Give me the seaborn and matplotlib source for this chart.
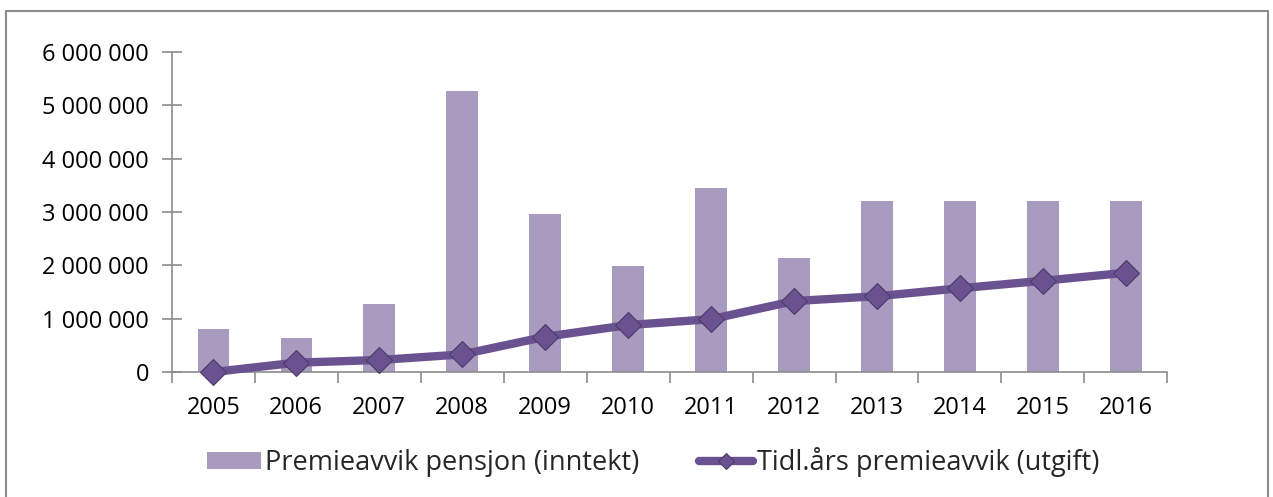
import matplotlib
matplotlib.use('Agg')
import matplotlib.pyplot as plt
import pandas as pd
import seaborn as sns
from matplotlib.ticker import FuncFormatter, FixedLocator
from matplotlib.patches import Rectangle

# chart data
years = ["2005", "2006", "2007", "2008", "2009", "2010",
         "2011", "2012", "2013", "2014", "2015", "2016"]
inntekt = [805000, 640000, 1280000, 5260000, 2960000, 1990000,
           3450000, 2140000, 3210000, 3210000, 3210000, 3210000]
utgift = [0, 175000, 225000, 330000, 660000, 880000,
          990000, 1330000, 1420000, 1570000, 1710000, 1860000]

bar_label = "Premieavvik pensjon (inntekt)"
line_label = "Tidl.års premieavvik (utgift)"

bar_color = "#A99ABF"
line_color = "#6A5290"
axis_grey = "#8C8C8C"

sns.set_theme(style="white")
plt.rcParams['font.family'] = ['Open Sans', 'DejaVu Sans']

df = pd.DataFrame({"year": years, "inntekt": inntekt, "utgift": utgift})

fig = plt.figure(figsize=(12.73, 4.97), dpi=100)
ax = fig.add_axes([0.135, 0.2515, 0.782, 0.644])

sns.barplot(data=df, x="year", y="inntekt", color=bar_color, width=0.38,
            saturation=1, ax=ax, label=bar_label, linewidth=0)
sns.pointplot(data=df, x="year", y="utgift", color=line_color, markers="D",
              ax=ax, label=line_label, linewidth=6, markersize=13,
              markeredgecolor="#4E3A6A", markeredgewidth=0.8)
for ln in ax.lines:
    ln.set_clip_on(False)
    ln.set_zorder(5)

ax.set_ylim(0, 6000000)
ax.set_xlim(-0.5, len(years) - 0.5)
ax.yaxis.set_major_locator(FixedLocator(range(0, 6000001, 1000000)))
ax.yaxis.set_major_formatter(FuncFormatter(lambda v, p: f"{int(v):,}".replace(",", " ")))
ax.set_xlabel("")
ax.set_ylabel("")

for side in ["top", "right"]:
    ax.spines[side].set_visible(False)
for side in ["left", "bottom"]:
    ax.spines[side].set_color(axis_grey)
    ax.spines[side].set_linewidth(1.2)

ax.tick_params(axis="y", which="major", direction="inout", length=14, width=1.2,
               color=axis_grey, left=True, labelsize=17, pad=9.5)
ax.tick_params(axis="x", which="major", length=0, labelsize=17, pad=17)
ax.set_xticks([i + 0.5 for i in range(-1, len(years))], minor=True)
ax.tick_params(axis="x", which="minor", direction="out", length=8, width=1.2,
               color=axis_grey, bottom=True)
for lbl in ax.get_xticklabels() + ax.get_yticklabels():
    lbl.set_color("black")

handles, labels = ax.get_legend_handles_labels()
order = [labels.index(bar_label), labels.index(line_label)]
ax.legend([handles[i] for i in order], [labels[i] for i in order],
          loc="center", bbox_to_anchor=(0.513, 0.07),
          bbox_transform=fig.transFigure, ncol=2, frameon=False,
          fontsize=19.5, handlelength=2.0, handleheight=0.6, handletextpad=0.15,
          columnspacing=2.2, markerscale=0.65)

# outer chart border
fig.patches.append(Rectangle((0.005, -0.02), 0.991, 0.998, transform=fig.transFigure,
                             fill=False, edgecolor=axis_grey, linewidth=1.5))

fig.savefig("out.png", dpi=100)
